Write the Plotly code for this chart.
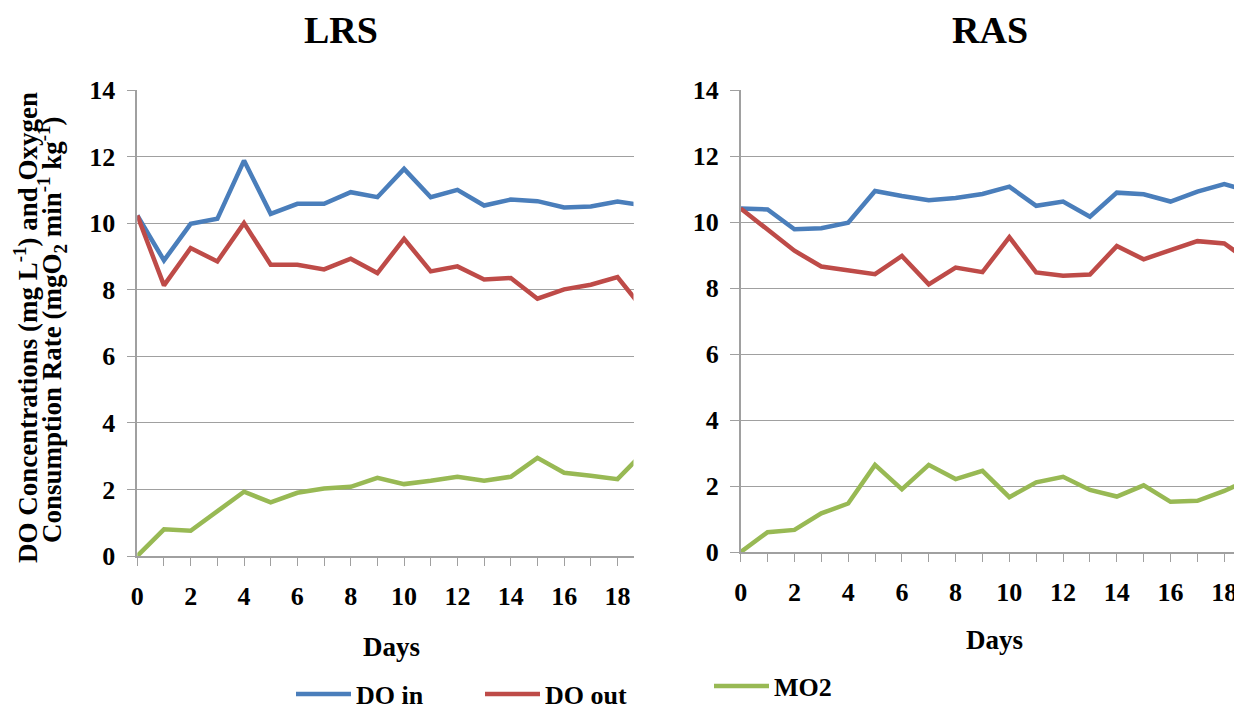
import plotly.graph_objects as go

days = list(range(20))
lrs_do_in = [10.23, 8.88, 9.98, 10.13, 11.88, 10.28, 10.58, 10.58, 10.93, 10.78, 11.63, 10.78, 11.0, 10.53, 10.71, 10.66, 10.47, 10.5, 10.65, 10.53]
lrs_do_out = [10.23, 8.13, 9.25, 8.85, 10.0, 8.75, 8.75, 8.61, 8.93, 8.5, 9.53, 8.55, 8.7, 8.31, 8.35, 7.73, 8.01, 8.15, 8.38, 7.38]
lrs_mo2 = [0.0, 0.8, 0.76, 1.33, 1.93, 1.61, 1.9, 2.03, 2.08, 2.35, 2.16, 2.26, 2.38, 2.26, 2.38, 2.95, 2.5, 2.41, 2.31, 3.13]
ras_do_in = [10.41, 10.38, 9.78, 9.81, 9.98, 10.94, 10.79, 10.66, 10.73, 10.85, 11.07, 10.49, 10.62, 10.16, 10.89, 10.84, 10.62, 10.92, 11.15, 10.91]
ras_do_out = [10.41, 9.78, 9.13, 8.65, 8.55, 8.42, 8.97, 8.11, 8.62, 8.48, 9.54, 8.47, 8.37, 8.41, 9.27, 8.87, 9.15, 9.42, 9.35, 8.77]
ras_mo2 = [0.0, 0.6, 0.67, 1.17, 1.47, 2.64, 1.9, 2.64, 2.21, 2.46, 1.66, 2.11, 2.28, 1.88, 1.68, 2.02, 1.52, 1.55, 1.85, 2.23]

series_names = ["DO in", "DO out", "MO2"]
colors = ["#4A7EBB", "#BE4B48", "#98B954"]
panel_titles = ["LRS", "RAS"]
x_ticks = [0, 2, 4, 6, 8, 10, 12, 14, 16, 18]
y_ticks = [0, 2, 4, 6, 8, 10, 12, 14]

OFF = 8  # page body margin
W, H = 1242 - OFF, 705 - OFF
def px(x):
    return (x - OFF) / W
def py(y):
    return 1 - (y - OFF) / H

FONT = "Liberation Serif, Times New Roman, serif"
GRAY = "#A0A0A0"

fig = go.Figure()
legends = ["legend", "legend2", "legend3"]
for i, (name, vals) in enumerate(zip(series_names, [lrs_do_in, lrs_do_out, lrs_mo2])):
    fig.add_trace(go.Scatter(x=days, y=vals, mode="lines", name=name,
                             line=dict(color=colors[i], width=4.5),
                             xaxis="x", yaxis="y", legend=legends[i]))
for i, (name, vals) in enumerate(zip(series_names, [ras_do_in, ras_do_out, ras_mo2])):
    fig.add_trace(go.Scatter(x=days, y=vals, mode="lines", name=name,
                             line=dict(color=colors[i], width=4.5),
                             xaxis="x2", yaxis="y2", showlegend=False))

tickfont = dict(family=FONT, size=26, color="black", weight="bold")

def xaxis(domain, rng, anchor):
    return dict(domain=domain, range=rng, anchor=anchor, tickvals=x_ticks,
                ticks="outside", ticklen=8, tickcolor=GRAY, tickwidth=1.3,
                showline=True, linecolor=GRAY, linewidth=1.5, showgrid=False,
                zeroline=False, tickfont=tickfont, ticklabelstandoff=8,
                minor=dict(dtick=1, ticks="outside", ticklen=8, tickcolor=GRAY,
                           tickwidth=1.3, showgrid=False))

def yaxis(domain, anchor):
    return dict(domain=domain, range=[0, 14], anchor=anchor, tickvals=y_ticks,
                ticks="outside", ticklen=9, tickcolor=GRAY, tickwidth=1.3,
                showline=True, linecolor=GRAY, linewidth=1.5, showgrid=True,
                gridcolor=GRAY, gridwidth=1.3, zeroline=False, tickfont=tickfont,
                ticklabelstandoff=6)

legfont = dict(family=FONT, size=26, color="black", weight="bold")
fig.update_layout(
    width=W, height=H, margin=dict(l=0, r=0, t=0, b=0, autoexpand=False),
    font=dict(family=FONT, color="black", weight="bold"),
    paper_bgcolor="white", plot_bgcolor="white",
    xaxis=xaxis([px(137.3), px(633.5)], [0, 18.6], "y"),
    yaxis=yaxis([py(556), py(90)], "x"),
    xaxis2=xaxis([px(740.7), 1.0], [0, 18.66], "y2"),
    yaxis2=yaxis([py(552), py(90)], "x2"),
    legend=dict(x=px(291), y=py(694), xanchor="left", yanchor="middle",
                font=legfont, itemwidth=55, bgcolor="rgba(0,0,0,0)"),
    legend2=dict(x=px(480), y=py(694), xanchor="left", yanchor="middle",
                 font=legfont, itemwidth=55, bgcolor="rgba(0,0,0,0)"),
    legend3=dict(x=px(709), y=py(686), xanchor="left", yanchor="middle",
                 font=legfont, itemwidth=55, bgcolor="rgba(0,0,0,0)"),
)

ann_font = dict(family=FONT, size=27, color="black", weight="bold")
title_font = dict(family=FONT, size=38, color="black", weight="bold")
annotations = [
    dict(text=panel_titles[0], x=px(341), y=py(30), font=title_font),
    dict(text=panel_titles[1], x=px(990), y=py(30), font=title_font),
    dict(text="Days", x=px(391), y=py(647), font=ann_font),
    dict(text="Days", x=px(995), y=py(640), font=ann_font),
    dict(text="DO Concentrations (mg L<sup>-1</sup>) and Oxygen", x=px(26), y=py(328),
         textangle=-90, font=ann_font),
    dict(text="Consumption Rate (mgO<sub>2</sub> min<sup>-1</sup> kg<sup>-1</sup>)", x=px(52), y=py(330),
         textangle=-90, font=ann_font),
]
for a in annotations:
    a.update(xref="paper", yref="paper", showarrow=False, xanchor="center", yanchor="middle")
fig.update_layout(annotations=annotations)

fig.write_html("out.html")
